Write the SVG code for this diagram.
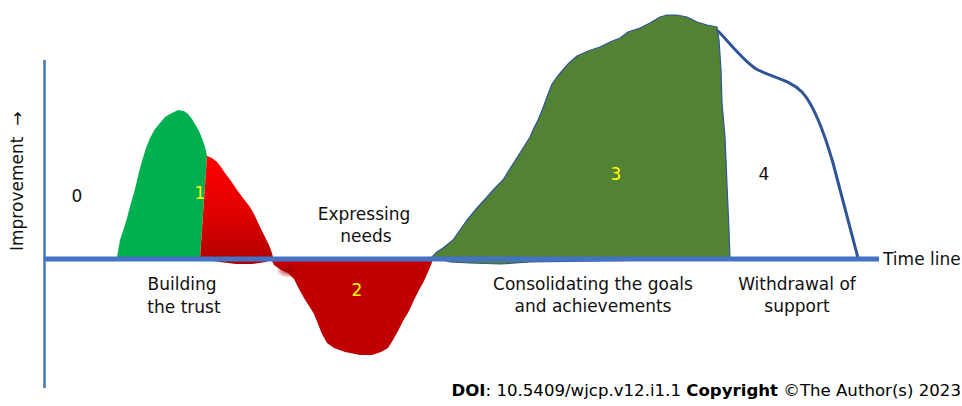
<svg xmlns="http://www.w3.org/2000/svg" width="962" height="406" viewBox="0 0 962 406">
  <defs>
    <linearGradient id="redFade" x1="0" y1="156" x2="0" y2="262" gradientUnits="userSpaceOnUse">
      <stop offset="0" stop-color="#FF0000"/>
      <stop offset="0.55" stop-color="#E00000"/>
      <stop offset="1" stop-color="#B00000"/>
    </linearGradient>
    <radialGradient id="darkSpot" cx="0.5" cy="0.5" r="0.5">
      <stop offset="0" stop-color="#9A0000" stop-opacity="0.9"/>
      <stop offset="1" stop-color="#C00000" stop-opacity="0"/>
    </radialGradient>
    <style>
      .lbl { font-family: "DejaVu Sans", Verdana, sans-serif; font-size: 17px; fill: #111; }
      .num { font-family: "DejaVu Sans", Verdana, sans-serif; font-size: 17px; fill: #FFFF00; text-anchor: middle; }
      .mid { text-anchor: middle; }
      .axis { stroke: #4472C4; fill: none; }
      .foot { font-family: "DejaVu Sans", Verdana, sans-serif; font-size: 16.6px; fill: #000; }
    </style>
  </defs>

  <rect width="962" height="406" fill="#FFFFFF"/>

  <!-- phase 1: building the trust -->
  <g id="phase1">
    <path d="M117,257 L120,240 L124,228 L127,218 L131,203 L135,189 L139,172 L142,161 L146,148 L150,138 L155,129 L160,123 L165,117 L170,114 L178,110 L184,111 L188,114 L192,119 L195,124 L199,131 L202,138 L205,147 L207,156 L200,258 Z" fill="#00B050"/>
    <path d="M207,156 L212,158 L217,162 L221,167 L225,173 L231,181 L237,190 L243,198 L250,207 L255,216 L260,227 L264,235 L268,243 L271,250 L273,257 L266,262 L252,264 L236,264 L220,262 L200,259 Z" fill="url(#redFade)"/>
  </g>

  <!-- phase 2: expressing needs -->
  <g id="phase2">
    <path d="M270,257 L274,265 L281,270 L288,273 L294,279 L299,289 L304,298 L309,306 L314,314 L318,324 L322,334 L327,343 L334,348 L345,352 L360,355 L372,355 L381,352 L388,348 L393,340 L398,331 L403,321 L409,311 L414,300 L419,290 L424,281 L428,272 L431,265 L433,259 Z" fill="#C00000"/>
    <ellipse cx="288" cy="270" rx="12" ry="8" fill="url(#darkSpot)"/>
  </g>

  <!-- phase 3: consolidating the goals -->
  <g id="phase3">
    <path d="M432,257 L437,252 L443,248 L448,244 L453,240 L460,230 L467,220 L477,208 L487,197 L495,188 L503,180 L511,167 L520,153 L525,145 L530,137 L534,128 L538,120 L543,108 L547,97 L552,84 L557,77 L562,71 L569,63 L577,56 L588,51 L600,47 L610,42 L620,38 L628,32 L640,28 L650,23 L660,17 L667,15 L677,15 L687,17 L697,22 L707,25 L717,27 L719,40 L721,70 L722,103 L725,137 L726,160 L727,185 L729,230 L730,259 L600,261 L530,262 L500,264 L470,263 L450,262 Z" fill="#548235" stroke="#2F5597" stroke-width="1.2" stroke-linejoin="round"/>
  </g>

  <!-- phase 4: withdrawal of support -->
  <g id="phase4">
    <path d="M718,31 C730,43 745,63 758,70 C772,77 790,80 802,92 C814,105 824,132 833,163 L858,258" fill="none" stroke="#2F5597" stroke-width="3" stroke-linecap="round" stroke-linejoin="round"/>
  </g>

  <!-- axes -->
  <g id="connectors">
    <line class="axis" x1="44.5" y1="60" x2="44.5" y2="388" stroke-width="2.5"/>
    <line class="axis" x1="44" y1="259" x2="879" y2="259" stroke-width="5"/>
  </g>

  <!-- labels -->
  <g id="labels">
    <text class="lbl" transform="translate(23,251) rotate(-90)">Improvement &#160;→</text>
    <text class="lbl mid" x="77" y="202">0</text>
    <text class="num" x="200" y="199">1</text>
    <text class="num" x="357" y="296">2</text>
    <text class="num" x="616" y="180">3</text>
    <text class="lbl mid" x="764" y="180">4</text>
    <text class="lbl mid" x="364" y="220">Expressing</text>
    <text class="lbl mid" x="366" y="242">needs</text>
    <text class="lbl mid" x="182" y="290">Building</text>
    <text class="lbl mid" x="184" y="313">the trust</text>
    <text class="lbl mid" x="593" y="290">Consolidating the goals</text>
    <text class="lbl mid" x="593" y="312">and achievements</text>
    <text class="lbl mid" x="797" y="290">Withdrawal of</text>
    <text class="lbl mid" x="797" y="312">support</text>
    <text class="lbl" x="883" y="265">Time line</text>
  </g>

  <!-- credit line -->
  <g id="footer">
    <text class="foot" x="961" y="396" text-anchor="end"><tspan font-weight="bold">DOI</tspan>: 10.5409/wjcp.v12.i1.1 <tspan font-weight="bold">Copyright</tspan> ©The Author(s) 2023</text>
  </g>
</svg>
